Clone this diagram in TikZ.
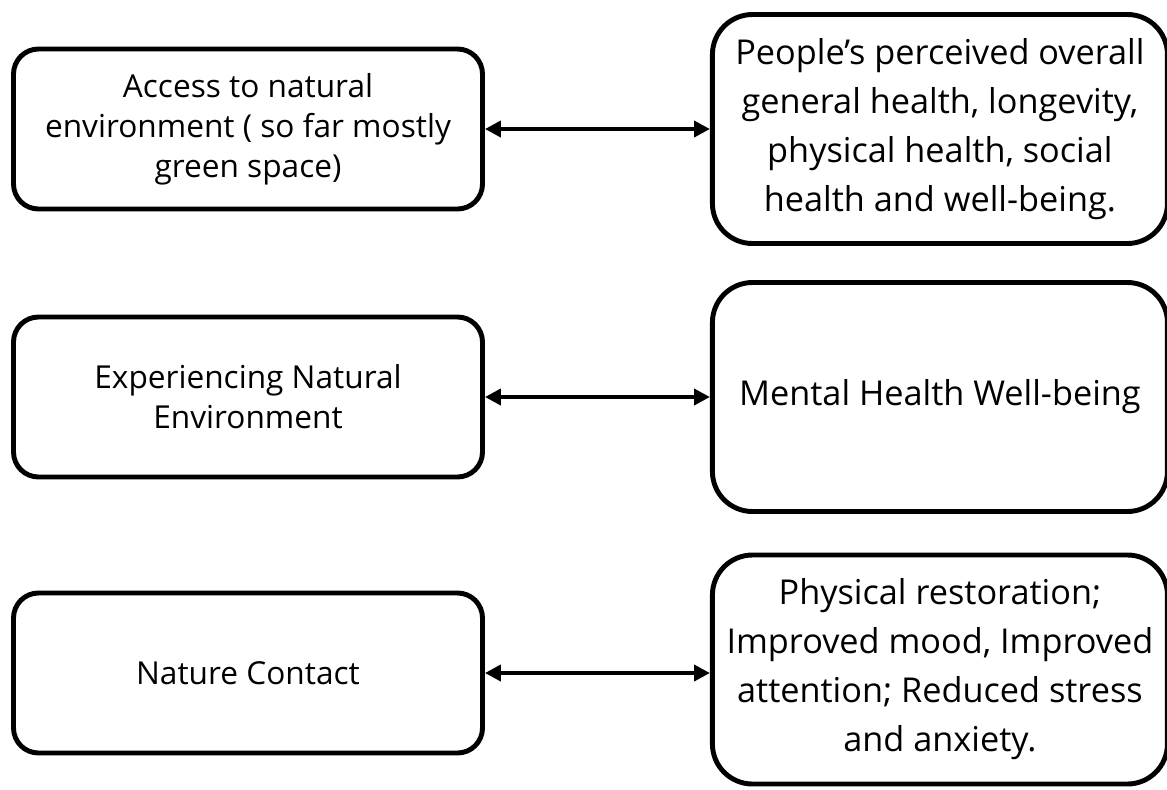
\documentclass[tikz,border=0pt]{standalone}
\usepackage{fontspec}
\setmainfont{Open Sans}
\usetikzlibrary{arrows.meta,positioning}

\begin{document}
\begin{tikzpicture}[>={Triangle[length=9pt,width=9pt]},node distance=4.5cm,
  b/.style={draw,line width=2.8pt,align=center},
  lb/.style={b,rounded corners=0.5cm,minimum width=9.38cm,minimum height=3.2cm,
    font=\fontsize{18}{22.8}\selectfont},
  rb/.style={b,rounded corners=0.8cm,minimum width=9.1cm,minimum height=4.58cm,
    font=\fontsize{19.5}{27.9}\selectfont}]
\useasboundingbox (0,0) rectangle (23.34,-15.78);
\node[lb] (access) at (4.96,-2.58) {Access to natural\\environment ( so far mostly\\green space)};
\node[lb] (exper) at (4.96,-7.94) {Experiencing Natural\\Environment};
\node[lb] (contact) at (4.96,-13.46) {Nature Contact};
\node[rb,right=of access] (health) {People’s perceived overall\\general health, longevity,\\physical health, social\\health and well-being.};
\node[rb,right=of exper] (mental) {Mental Health Well-being};
\node[rb,right=of contact,yshift=0.07cm] (restor) {Physical restoration;\\Improved mood, Improved\\attention; Reduced stress\\and anxiety.};
\draw[<->,line width=2.2pt] (access.east) -- (access.east -| health.west);
\draw[<->,line width=2.2pt] (exper.east) -- (exper.east -| mental.west);
\draw[<->,line width=2.2pt] (contact.east) -- (contact.east -| restor.west);
\end{tikzpicture}
\end{document}
